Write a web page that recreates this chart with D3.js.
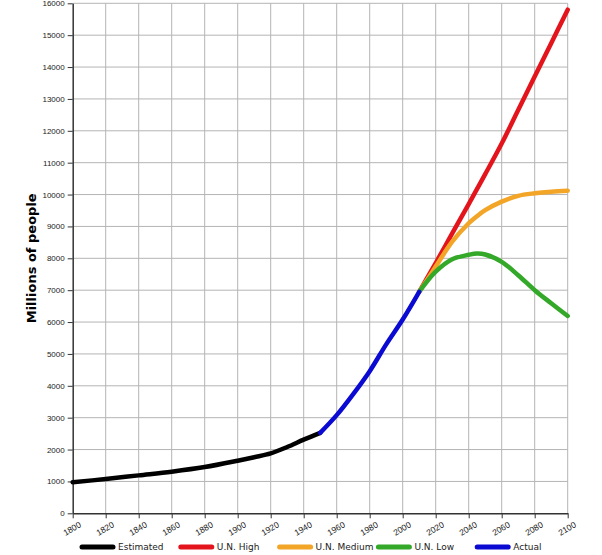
<!DOCTYPE html>
<html>
<head>
<meta charset="utf-8">
<script src="https://cdn.jsdelivr.net/npm/d3@7"></script>
<style>
  body { margin: 0; background: #fff; }
  svg { font-family: "DejaVu Sans", sans-serif; }
  .grid line { stroke: #b4b4b4; stroke-width: 1; }
  .axis path, .axis line { stroke: #333; }
  .axis text { font-size: 8px; fill: #222; }
  .series { fill: none; stroke-width: 4.5; stroke-linejoin: round; stroke-linecap: round; }
</style>
</head>
<body>
<svg id="chart" width="602" height="555"></svg>
<script>
// data (millions of people)
var estYears = [1800, 1820, 1840, 1860, 1880, 1900, 1910, 1920, 1930, 1940, 1950]
var estVals  = [975, 1075, 1190, 1305, 1450, 1650, 1760, 1880, 2080, 2310, 2525]

var actYears = [1950, 1960, 1970, 1980, 1990, 2000, 2010]
var actVals  = [2525, 3080, 3740, 4460, 5300, 6080, 6950]

var projYears = [2010, 2020, 2030, 2040, 2045, 2050, 2060, 2070, 2080, 2090, 2100]
var highVals  = [6950, 7850, 8780, 9700, 10170, 10640, 11600, 12650, 13700, 14750, 15800]
var medVals   = [6950, 7740, 8520, 9100, 9320, 9510, 9780, 9960, 10040, 10090, 10120]
var lowVals   = [6950, 7580, 7970, 8110, 8150, 8120, 7890, 7470, 7000, 6590, 6190]

var xTicks = d3.range(1800, 2101, 20)
var yTicks = d3.range(0, 16001, 1000)

var legendNames  = ["Estimated", "U.N. High", "U.N. Medium", "U.N. Low", "Actual"]
var legendColors = ["#000000", "#e3141c", "#f2a526", "#33a829", "#0a0ad2"]

// layout
var margin = { top: 3.3, left: 72.7, right: 34.3, bottom: 41.7 },
    width = 602 - margin.left - margin.right,
    height = 555 - margin.top - margin.bottom

var svg = d3.select("#chart")
var g = svg.append("g").attr("transform", "translate(" + margin.left + "," + margin.top + ")")

var x = d3.scaleLinear().domain([1800, 2100]).range([0, width])
var y = d3.scaleLinear().domain([0, 16000]).range([height, 0])

// grid
var grid = g.append("g").attr("class", "grid")
grid.selectAll("line.v").data(xTicks.slice(1)).enter().append("line")
    .attr("class", "v")
    .attr("x1", function(d) { return x(d) }).attr("x2", function(d) { return x(d) })
    .attr("y1", 0).attr("y2", height)
grid.selectAll("line.h").data(yTicks.slice(1)).enter().append("line")
    .attr("class", "h")
    .attr("x1", 0).attr("x2", width)
    .attr("y1", function(d) { return y(d) }).attr("y2", function(d) { return y(d) })

// axes
g.append("g")
    .attr("class", "axis")
    .attr("transform", "translate(0," + height + ")")
    .call(d3.axisBottom(x).tickValues(xTicks).tickFormat(d3.format("d")).tickSize(5).tickSizeOuter(0))
    .call(function(a) { a.select(".domain").attr("stroke-width", 1.5) })
    .selectAll("text")
    .style("font-size", "8.5px")
    .attr("text-anchor", "end")
    .attr("dx", "0.1em")
    .attr("dy", "0.9em")
    .attr("transform", "rotate(-30)")

g.append("g")
    .attr("class", "axis")
    .call(d3.axisLeft(y).tickValues(yTicks).tickFormat(d3.format("d")).tickSize(5).tickSizeOuter(0))
    .call(function(a) { a.select(".domain").attr("stroke-width", 1.5) })

// y label
svg.append("text")
    .attr("transform", "translate(36," + (margin.top + height / 2) + ") rotate(-90)")
    .attr("text-anchor", "middle")
    .style("font-size", "13px")
    .style("font-weight", "bold")
    .text("Millions of people")

// lines
var line = d3.line()
    .x(function(d) { return x(d[0]) })
    .y(function(d) { return y(d[1]) })
    .curve(d3.curveCatmullRom.alpha(0.5))

function pairs(xs, ys) { return xs.map(function(v, i) { return [v, ys[i]] }) }

var seriesList = [
    { data: pairs(projYears, highVals), color: legendColors[1] },
    { data: pairs(projYears, medVals), color: legendColors[2] },
    { data: pairs(projYears, lowVals), color: legendColors[3] },
    { data: pairs(estYears, estVals), color: legendColors[0] },
    { data: pairs(actYears, actVals), color: legendColors[4] }
]

g.selectAll("path.series").data(seriesList).enter().append("path")
    .attr("class", "series")
    .attr("stroke", function(d) { return d.color })
    .attr("d", function(d) { return line(d.data) })

// legend
var key = svg.append("g").attr("transform", "translate(82,547)")
var item = key.selectAll("g").data(legendNames).enter().append("g")
    .attr("transform", function(d, i) { return "translate(" + (i * 98.8) + ",0)" })
item.append("line")
    .attr("x1", 0).attr("x2", 31)
    .attr("stroke", function(d, i) { return legendColors[i] })
    .attr("stroke-width", 5)
    .attr("stroke-linecap", "round")
item.append("text")
    .attr("x", 36)
    .attr("dy", "0.35em")
    .style("font-size", "9px")
    .attr("fill", "#222")
    .text(function(d) { return d })
</script>
</body>
</html>
